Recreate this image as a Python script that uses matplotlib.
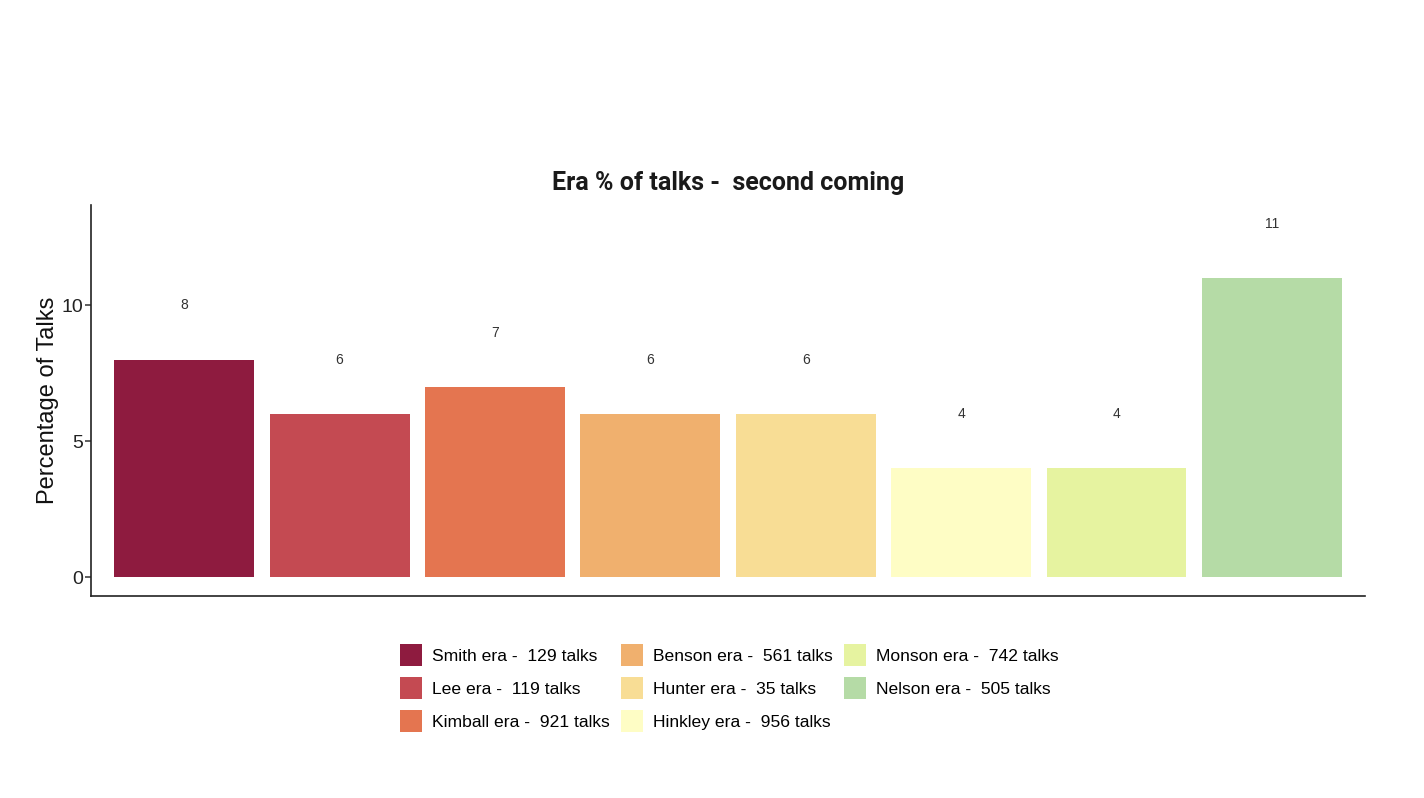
import matplotlib.pyplot as plt
from matplotlib.patches import Patch

eras = ['Smith era', 'Lee era', 'Kimball era', 'Benson era',
        'Hunter era', 'Hinkley era', 'Monson era', 'Nelson era']
talks = [129, 119, 921, 561, 35, 956, 742, 505]
percent = [8, 6, 7, 6, 6, 4, 4, 11]
colors = ['#8E1B3F', '#C44A52', '#E47550', '#F0B06E',
          '#F8DD95', '#FEFDC5', '#E6F3A0', '#B5DBA6']

plt.rcParams['font.family'] = ['Liberation Sans', 'DejaVu Sans']

fig = plt.figure(figsize=(14.24, 7.98), dpi=100)
ax = fig.add_axes([0.0639, 0.2531, 0.8947, 0.49])

x = list(range(1, len(eras) + 1))
ax.bar(x, percent, width=0.9, color=colors)
for xi, p in zip(x, percent):
    ax.text(xi, p + 2, str(p), ha='center', va='center', fontsize=10, color='#333333')

ax.set_xlim(0.4, 8.6)
ax.set_ylim(-0.7, 13.7)
ax.set_xticks([])
ax.set_yticks([0, 5, 10])
ax.tick_params(axis='y', labelsize=14, length=4, width=1.1, pad=1.5, color='#333333',
               labelcolor='#222222')
ax.set_ylabel('Percentage of Talks', fontsize=17, color='#111111', labelpad=2)
for side in ['top', 'right']:
    ax.spines[side].set_visible(False)
for side in ['left', 'bottom']:
    ax.spines[side].set_linewidth(1.2)
    ax.spines[side].set_color('#222222')
ax.set_title('Era % of talks -  second coming', fontsize=18, fontweight='bold',
             family=['Roboto', 'DejaVu Sans'], color='#1a1a1a', pad=11)

handles = [Patch(facecolor=c, edgecolor='none') for c in colors]
labels = [f'{e} -  {t} talks' for e, t in zip(eras, talks)]
fig.legend(handles, labels, ncol=3, loc='center', bbox_to_anchor=(0.512, 0.1378),
           frameon=False, fontsize=12.6, handlelength=1.26, handleheight=1.56,
           handletextpad=0.57, columnspacing=0.63, labelspacing=0.63)

fig.savefig('out.png', dpi=100)
